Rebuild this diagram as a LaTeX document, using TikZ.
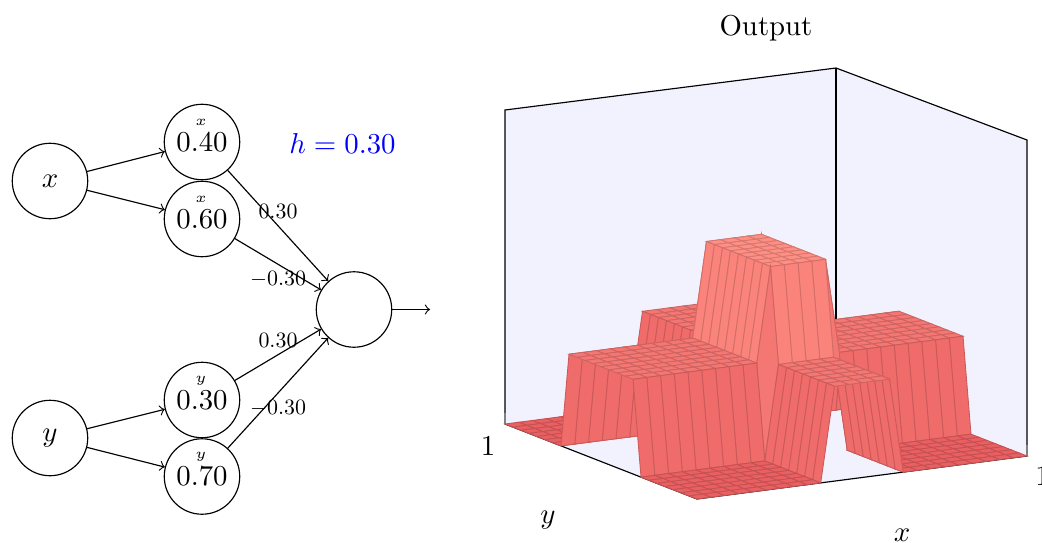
\documentclass[tikz,border=0pt]{standalone}
\pgfmathdeclarefunction{hgt}{2}{\pgfmathparse{0.3*(#1>9.6)*(#1<14.4)+0.3*(#2>7.2)*(#2<16.8)}}
\pgfmathdeclarefunction{prx}{2}{\pgfmathparse{697+330*#1/24-192*#2/24}}
\pgfmathdeclarefunction{pry}{3}{\pgfmathparse{499-43*#1/24-75*#2/24-316*#3}}
\definecolor{wallbg}{RGB}{242,242,255}
\newcommand{\numtxt}[1]{\raisebox{-0.35pt}{#1}}
\tikzset{
 neuron/.style={circle,draw,minimum size=26.2pt,inner sep=0pt},
 smallvar/.style={inner sep=0pt,font=\tiny},
 weight/.style={inner sep=0pt,scale=0.76},
 link/.style={->,line width=0.4pt},
 boxline/.style={line width=0.4pt,black},
 tickline/.style={line width=0.4pt,gray},
 plane/.style={fill=wallbg,draw=none},
 axlabel/.style={inner sep=0pt},
}
\begin{document}
\begin{tikzpicture}[x=0.3472pt,y=-0.3472pt]
\clip (0,0) rectangle (1042,542);
% axis box
\coordinate (F0) at (697,499);
\coordinate (FL) at (505,424);
\coordinate (FR) at (1027,456);
\coordinate (FB) at (836,381);
\coordinate (TL) at (505,110);
\coordinate (TB) at (836,68);
\coordinate (TR) at (1027,140);
\fill[plane] (FL)--(TL)--(TB)--(TR)--(FR)--(F0)--cycle;
\draw[boxline] (FL)--(TL)--(TB)--(TR)--(FR)--(F0)--cycle;
\draw[boxline] (TB)--(FB);
\draw[tickline] (FL)--++(0,-11);
\draw[tickline] (FR)--++(0,-11);
% surface, painted back to front
\foreach \i in {23,22,...,0}{
 \foreach \j in {23,22,...,0}{
  \pgfmathsetmacro{\ia}{\i+1}
  \pgfmathsetmacro{\ja}{\j+1}
  \pgfmathsetmacro{\za}{hgt(\i,\j)}
  \pgfmathsetmacro{\zb}{hgt(\ia,\j)}
  \pgfmathsetmacro{\zc}{hgt(\ia,\ja)}
  \pgfmathsetmacro{\zd}{hgt(\i,\ja)}
  \pgfmathsetmacro{\zm}{(\za+\zb+\zc+\zd)/4}
  \pgfmathsetmacro{\cr}{min(255,234+35*\zm)/255}
  \pgfmathsetmacro{\cg}{(96+78*\zm)/255}
  \pgfmathsetmacro{\cb}{(98+57*\zm)/255}
  \definecolor{cellc}{rgb}{\cr,\cg,\cb}
  \filldraw[fill=cellc,draw=cellc!84!black,line width=0.3pt,line join=miter]
   ({prx(\i,\j)},{pry(\i,\j,\za)}) -- ({prx(\ia,\j)},{pry(\ia,\j,\zb)}) --
   ({prx(\ia,\ja)},{pry(\ia,\ja,\zc)}) -- ({prx(\i,\ja)},{pry(\i,\ja,\zd)}) -- cycle;
 }
}
\node[axlabel] (lab1) at (488,445.5) {1};
\node[axlabel] (lab2) at (1042.5,476) {1};
\node[axlabel] (laby) at (548,520) {$y$};
\node[axlabel] (labx) at (902,535) {$x$};
\node[axlabel] (title) at (766,28) {Output};
% network
\node[neuron] (x) at (50,181) {$x$};
\node[neuron] (y) at (50,438) {$y$};
\node[neuron] (a) at (202,142) {\numtxt{0.40}};
\node[neuron] (b) at (202,219) {\numtxt{0.60}};
\node[neuron] (c) at (202,400) {\numtxt{0.30}};
\node[neuron] (d) at (202,476.5) {\numtxt{0.70}};
\node[neuron] (o) at (354,309.5) {};
\coordinate (out) at (430,309.5);
\node[smallvar] (ax) at (201,122) {$x$};
\node[smallvar] (bx) at (201,199) {$x$};
\node[smallvar] (cy) at (201,381) {$y$};
\node[smallvar] (dy) at (201,457) {$y$};
\draw[link] (x)--(a);
\draw[link] (x)--(b);
\draw[link] (y)--(c);
\draw[link] (y)--(d);
\draw[link] (a)--(o);
\draw[link] (b)--(o);
\draw[link] (c)--(o);
\draw[link] (d)--(o);
\draw[link] (o)--(out);
\node[weight] (wa) at (278,211.5) {0.30};
\node[weight] (wb) at (278,279.5) {$-0.30$};
\node[weight] (wc) at (278,340.5) {0.30};
\node[weight] (wd) at (278,408) {$-0.30$};
\node[axlabel,text=blue] (h) at (342.5,143) {$h=0.30$};
\end{tikzpicture}
\end{document}
